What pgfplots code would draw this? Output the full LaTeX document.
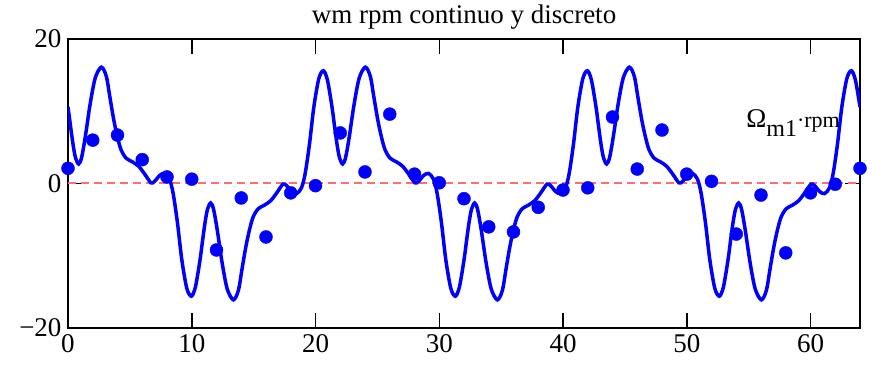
\documentclass[border=0pt]{standalone}
\usepackage{fontspec}
\setmainfont{Liberation Serif}
\usepackage{pgfplots}
\pgfplotsset{compat=1.18}
\definecolor{dashred}{RGB}{255,110,110}
\definecolor{myblue}{RGB}{0,0,255}
\begin{document}
\begin{tikzpicture}
\path[use as bounding box] (0,0) rectangle (873bp,365bp);
\begin{axis}[
  at={(68bp,37bp)}, anchor=south west,
  scale only axis, width=792bp, height=289bp,
  xmin=0, xmax=64, ymin=-20, ymax=20,
  xtick={0,10,20,30,40,50,60}, xticklabels={0,10,20,30,40,50,60},
  ytick={-20,0,20}, yticklabels={−20,0,20},
  tick align=inside, major tick length=15bp,
  tick style={black, line width=1.5bp},
  axis line style={line width=2bp},
  every tick label/.append style={font=\fontsize{27bp}{27bp}\selectfont},
  yticklabel style={xshift=-3bp},
  xticklabel style={yshift=-3bp},
  xtick pos=both, ytick pos=both, xticklabel pos=lower, yticklabel pos=left,
  title={wm rpm continuo y discreto},
  title style={font=\fontsize{27bp}{27bp}\selectfont, at={(0.5,1)}, anchor=south, yshift=0bp},
]
\addplot[color=dashred, line width=2bp, dash pattern=on 8bp off 5bp, forget plot] coordinates {(0,0) (64,0)};
\addplot[myblue, line width=3.5bp, smooth, tension=0.5] coordinates {
(0,10.6)(0.2,8.0)(0.4,5.5)(0.6,3.6)(0.86,2.7)(1.1,3.6)(1.4,6.5)(1.78,10.9)(2.2,14.6)(2.7,16.1)(3.1,14.8)(3.4,11.8)(3.7,8.8)(4.0,6.4)(4.3,4.6)(4.7,3.5)(5.2,3.0)(5.7,2.4)(6.2,1.3)(6.7,0.1)(7.0,0.3)(7.4,1.1)(7.8,1.4)(8.2,0.6)(8.5,-1.4)(8.85,-5.5)(9.2,-10.6)(9.6,-14.5)(9.97,-15.6)(10.3,-14.3)
(10.667,-10.6)(10.867,-8.0)(11.067,-5.5)(11.267,-3.6)(11.527,-2.7)(11.767,-3.6)(12.067,-6.5)(12.447,-10.9)(12.867,-14.6)(13.367,-16.1)(13.767,-14.8)(14.067,-11.8)(14.367,-8.8)(14.667,-6.4)(14.967,-4.6)(15.367,-3.5)(15.867,-3.0)(16.367,-2.4)(16.867,-1.3)(17.367,-0.1)(17.667,-0.3)(18.067,-1.1)(18.467,-1.4)(18.867,-0.6)(19.167,1.4)(19.517,5.5)(19.867,10.6)(20.267,14.5)(20.637,15.6)(20.967,14.3)
(21.333,10.6)(21.533,8.0)(21.733,5.5)(21.933,3.6)(22.193,2.7)(22.433,3.6)(22.733,6.5)(23.113,10.9)(23.533,14.6)(24.033,16.1)(24.433,14.8)(24.733,11.8)(25.033,8.8)(25.333,6.4)(25.633,4.6)(26.033,3.5)(26.533,3.0)(27.033,2.4)(27.533,1.3)(28.033,0.1)(28.333,0.3)(28.733,1.1)(29.133,1.4)(29.533,0.6)(29.833,-1.4)(30.183,-5.5)(30.533,-10.6)(30.933,-14.5)(31.303,-15.6)(31.633,-14.3)
(32,-10.6)(32.2,-8.0)(32.4,-5.5)(32.6,-3.6)(32.86,-2.7)(33.1,-3.6)(33.4,-6.5)(33.78,-10.9)(34.2,-14.6)(34.7,-16.1)(35.1,-14.8)(35.4,-11.8)(35.7,-8.8)(36.0,-6.4)(36.3,-4.6)(36.7,-3.5)(37.2,-3.0)(37.7,-2.4)(38.2,-1.3)(38.7,-0.1)(39.0,-0.3)(39.4,-1.1)(39.8,-1.4)(40.2,-0.6)(40.5,1.4)(40.85,5.5)(41.2,10.6)(41.6,14.5)(41.97,15.6)(42.3,14.3)
(42.667,10.6)(42.867,8.0)(43.067,5.5)(43.267,3.6)(43.527,2.7)(43.767,3.6)(44.067,6.5)(44.447,10.9)(44.867,14.6)(45.367,16.1)(45.767,14.8)(46.067,11.8)(46.367,8.8)(46.667,6.4)(46.967,4.6)(47.367,3.5)(47.867,3.0)(48.367,2.4)(48.867,1.3)(49.367,0.1)(49.667,0.3)(50.067,1.1)(50.467,1.4)(50.867,0.6)(51.167,-1.4)(51.517,-5.5)(51.867,-10.6)(52.267,-14.5)(52.637,-15.6)(52.967,-14.3)
(53.333,-10.6)(53.533,-8.0)(53.733,-5.5)(53.933,-3.6)(54.193,-2.7)(54.433,-3.6)(54.733,-6.5)(55.113,-10.9)(55.533,-14.6)(56.033,-16.1)(56.433,-14.8)(56.733,-11.8)(57.033,-8.8)(57.333,-6.4)(57.633,-4.6)(58.033,-3.5)(58.533,-3.0)(59.033,-2.4)(59.533,-1.3)(60.033,-0.1)(60.333,-0.3)(60.733,-1.1)(61.133,-1.4)(61.533,-0.6)(61.833,1.4)(62.183,5.5)(62.533,10.6)(62.933,14.5)(63.303,15.6)(63.633,14.3)
(64,10.6)
};
\addplot[only marks, mark=*, mark size=6.5bp, myblue, mark options={fill=myblue, draw=myblue}] coordinates {
(0,2.1)(2,6.0)(4,6.7)(6,3.3)(8,0.9)(10,0.6)(12,-9.2)(14,-2.0)(16,-7.4)(18,-1.3)(20,-0.3)(22,7.0)(24,1.6)(26,9.6)(28,1.3)(30,0.1)
(32,-2.1)(34,-6.0)(36,-6.7)(38,-3.3)(40,-0.9)(42,-0.6)(44,9.2)(46,2.0)(48,7.4)(50,1.3)(52,0.3)(54,-7.0)(56,-1.6)(58,-9.6)(60,-1.3)(62,-0.1)(64,2.1)
};
\node[anchor=base west, inner sep=0pt] at (axis cs:54.8,7.7) {{\fontsize{27bp}{27bp}\selectfont Ω}\raisebox{-9bp}{\fontsize{24bp}{24bp}\selectfont m1}{\fontsize{22bp}{22bp}\selectfont ·rpm}};
\end{axis}
\end{tikzpicture}
\end{document}
